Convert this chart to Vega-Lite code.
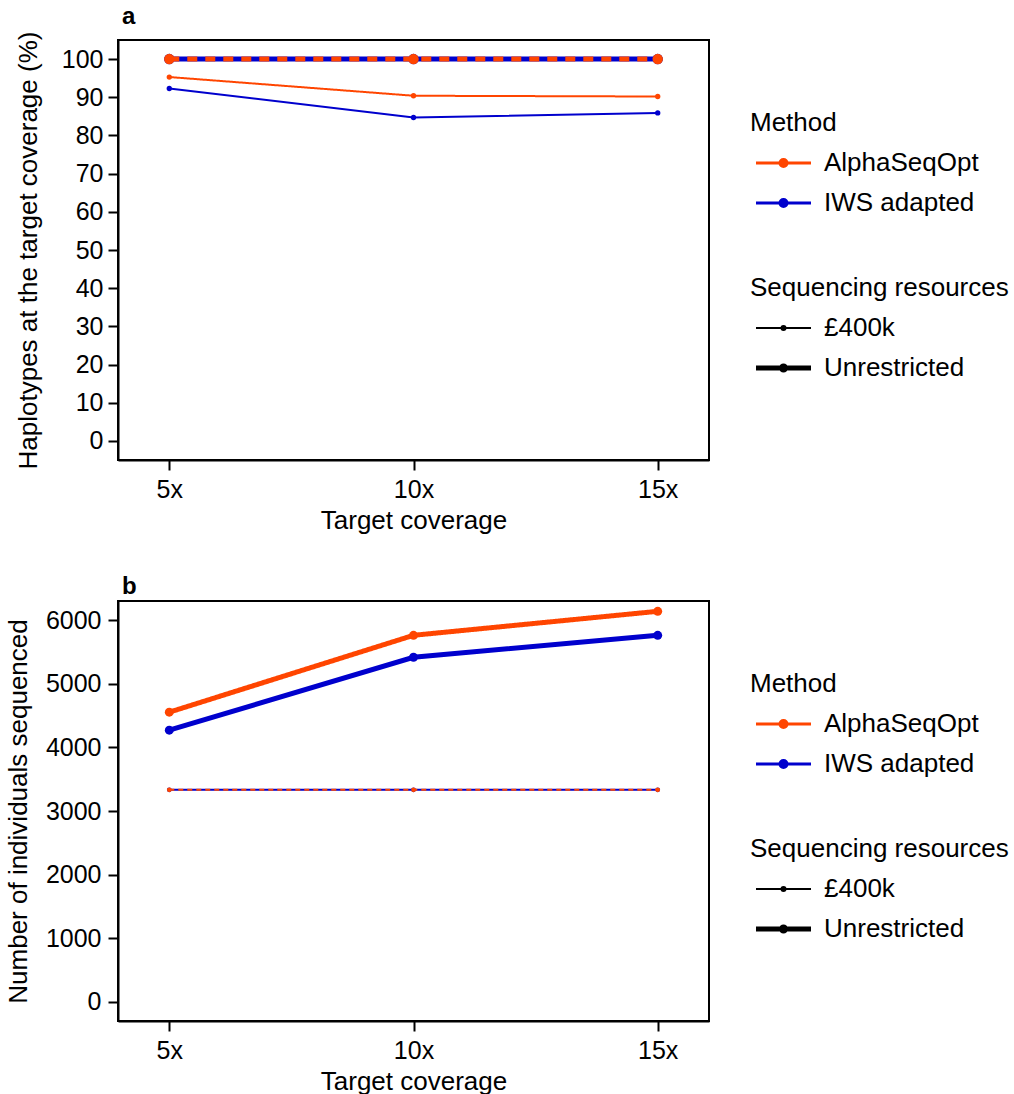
{
  "$schema": "https://vega.github.io/schema/vega-lite/v6.json",
  "background": "white",
  "padding": {"top": 4, "left": 4, "right": 2, "bottom": 0},
  "config": {
    "font": "Liberation Sans",
    "view": {"stroke": "black", "strokeWidth": 2},
    "axis": {
      "domainColor": "black", "domainWidth": 2, "tickColor": "black", "tickWidth": 2, "tickSize": 10,
      "labelColor": "black", "labelFontSize": 25, "labelFont": "Liberation Sans", "labelPadding": 5,
      "titleColor": "black", "titleFontSize": 26, "titleFont": "Liberation Sans", "titleFontWeight": "normal",
      "grid": false, "labelLimit": 300, "titleLimit": 600
    },
    "legend": {
      "labelFontSize": 26, "titleFontSize": 26, "labelColor": "black", "titleColor": "black",
      "titleFontWeight": "normal", "labelFont": "Liberation Sans", "titleFont": "Liberation Sans",
      "titleLimit": 400, "labelLimit": 400
    },
    "title": {"fontSize": 24, "fontWeight": "bold", "anchor": "start", "color": "black", "font": "Liberation Sans", "frame": "group"}
  },
  "datasets": {
    "pa": [
      {"coverage": "5x", "method": "AlphaSeqOpt", "resources": "£400k", "value": 95.3},
      {"coverage": "10x", "method": "AlphaSeqOpt", "resources": "£400k", "value": 90.4},
      {"coverage": "15x", "method": "AlphaSeqOpt", "resources": "£400k", "value": 90.2},
      {"coverage": "5x", "method": "IWS adapted", "resources": "£400k", "value": 92.3},
      {"coverage": "10x", "method": "IWS adapted", "resources": "£400k", "value": 84.7},
      {"coverage": "15x", "method": "IWS adapted", "resources": "£400k", "value": 85.9},
      {"coverage": "5x", "method": "AlphaSeqOpt", "resources": "Unrestricted", "value": 100},
      {"coverage": "10x", "method": "AlphaSeqOpt", "resources": "Unrestricted", "value": 100},
      {"coverage": "15x", "method": "AlphaSeqOpt", "resources": "Unrestricted", "value": 100},
      {"coverage": "5x", "method": "IWS adapted", "resources": "Unrestricted", "value": 100},
      {"coverage": "10x", "method": "IWS adapted", "resources": "Unrestricted", "value": 100},
      {"coverage": "15x", "method": "IWS adapted", "resources": "Unrestricted", "value": 100}
    ],
    "pb": [
      {"coverage": "5x", "method": "AlphaSeqOpt", "resources": "£400k", "value": 3333},
      {"coverage": "10x", "method": "AlphaSeqOpt", "resources": "£400k", "value": 3333},
      {"coverage": "15x", "method": "AlphaSeqOpt", "resources": "£400k", "value": 3333},
      {"coverage": "5x", "method": "IWS adapted", "resources": "£400k", "value": 3333},
      {"coverage": "10x", "method": "IWS adapted", "resources": "£400k", "value": 3333},
      {"coverage": "15x", "method": "IWS adapted", "resources": "£400k", "value": 3333},
      {"coverage": "5x", "method": "AlphaSeqOpt", "resources": "Unrestricted", "value": 4553},
      {"coverage": "10x", "method": "AlphaSeqOpt", "resources": "Unrestricted", "value": 5761},
      {"coverage": "15x", "method": "AlphaSeqOpt", "resources": "Unrestricted", "value": 6138},
      {"coverage": "5x", "method": "IWS adapted", "resources": "Unrestricted", "value": 4270},
      {"coverage": "10x", "method": "IWS adapted", "resources": "Unrestricted", "value": 5416},
      {"coverage": "15x", "method": "IWS adapted", "resources": "Unrestricted", "value": 5761}
    ]
  },
  "spacing": 40,
  "resolve": {
    "scale": {"color": "independent", "strokeWidth": "independent", "x": "independent", "y": "independent"},
    "legend": {"color": "independent", "strokeWidth": "independent"}
  },
  "vconcat": [
    {
      "width": 591, "height": 420,
      "title": {"text": "a", "dx": 4, "offset": 2},
      "data": {"name": "pa"},
      "encoding": {
        "x": {"field": "coverage", "type": "ordinal", "sort": ["5x", "10x", "15x"],
          "scale": {"type": "point", "padding": 0.21},
          "axis": {"title": "Target coverage", "labelAngle": 0, "labelPadding": 7, "titlePadding": 5}},
        "y": {"field": "value", "type": "quantitative",
          "scale": {"domain": [-5, 105], "nice": false, "zero": false},
          "axis": {"title": "Haplotypes at the target coverage (%)", "values": [0, 10, 20, 30, 40, 50, 60, 70, 80, 90, 100], "format": "d", "labelPadding": 5, "titlePadding": 20}}
      },
      "layer": [
        {
          "transform": [{"filter": "datum.method === 'IWS adapted'"}],
          "mark": {"type": "line"},
          "encoding": {
            "color": {"field": "method", "type": "nominal", "scale": {"domain": ["AlphaSeqOpt", "IWS adapted"], "range": ["#FF4500", "#0000CD"]},
              "legend": {"title": "Method", "orient": "none", "legendX": 632, "legendY": 70, "symbolType": "M-0.7,0L4.8,0M1.7,0A0.35,0.35 0 1,0 2.4,0A0.35,0.35 0 1,0 1.7,0M1.9,0A0.15,0.15 0 1,0 2.2,0A0.15,0.15 0 1,0 1.9,0", "symbolSize": 400, "symbolStrokeWidth": 3, "labelOffset": 48, "rowPadding": 14, "titlePadding": 14}},
            "strokeWidth": {"field": "resources", "type": "nominal", "scale": {"domain": ["£400k", "Unrestricted"], "range": [2, 5]},
              "legend": {"title": "Sequencing resources", "orient": "none", "legendX": 632, "legendY": 235, "symbolType": "M-0.7,0L4.8,0M1.85,0A0.2,0.2 0 1,0 2.25,0A0.2,0.2 0 1,0 1.85,0", "symbolSize": 400, "symbolStrokeColor": "black", "symbolFillColor": "black", "labelOffset": 48, "rowPadding": 14, "titlePadding": 14}},
            "detail": {"field": "resources"}
          }
        },
        {
          "transform": [{"filter": "datum.method === 'IWS adapted' && datum.resources === '£400k'"}],
          "mark": {"type": "point", "filled": true, "opacity": 1, "size": 28},
          "encoding": {"color": {"field": "method", "type": "nominal"}}
        },
        {
          "transform": [{"filter": "datum.method === 'IWS adapted' && datum.resources === 'Unrestricted'"}],
          "mark": {"type": "point", "filled": true, "opacity": 1, "size": 110},
          "encoding": {"color": {"field": "method", "type": "nominal"}}
        },
        {
          "transform": [{"filter": "datum.method === 'AlphaSeqOpt'"}],
          "mark": {"type": "line"},
          "encoding": {
            "color": {"field": "method", "type": "nominal"},
            "strokeWidth": {"field": "resources", "type": "nominal"},
            "strokeDash": {"condition": {"test": "datum.resources === 'Unrestricted'", "value": [10, 8]}, "value": [1, 0]},
            "detail": {"field": "resources"}
          }
        },
        {
          "transform": [{"filter": "datum.method === 'AlphaSeqOpt' && datum.resources === '£400k'"}],
          "mark": {"type": "point", "filled": true, "opacity": 1, "size": 28},
          "encoding": {"color": {"field": "method", "type": "nominal"}}
        },
        {
          "transform": [{"filter": "datum.method === 'AlphaSeqOpt' && datum.resources === 'Unrestricted'"}],
          "mark": {"type": "point", "filled": true, "opacity": 1, "size": 110},
          "encoding": {"color": {"field": "method", "type": "nominal"}}
        }
      ]
    },
    {
      "width": 591, "height": 420,
      "title": {"text": "b", "dx": 4, "offset": 2},
      "data": {"name": "pb"},
      "encoding": {
        "x": {"field": "coverage", "type": "ordinal", "sort": ["5x", "10x", "15x"],
          "scale": {"type": "point", "padding": 0.21},
          "axis": {"title": "Target coverage", "labelAngle": 0, "labelPadding": 7, "titlePadding": 5}},
        "y": {"field": "value", "type": "quantitative",
          "scale": {"domain": [-300, 6300], "nice": false, "zero": false},
          "axis": {"title": "Number of individuals sequenced", "values": [0, 1000, 2000, 3000, 4000, 5000, 6000], "format": "d", "labelPadding": 7, "titlePadding": 14}}
      },
      "layer": [
        {
          "transform": [{"filter": "datum.method === 'IWS adapted'"}],
          "mark": {"type": "line"},
          "encoding": {
            "color": {"field": "method", "type": "nominal", "scale": {"domain": ["AlphaSeqOpt", "IWS adapted"], "range": ["#FF4500", "#0000CD"]},
              "legend": {"title": "Method", "orient": "none", "legendX": 632, "legendY": 70, "symbolType": "M-0.7,0L4.8,0M1.7,0A0.35,0.35 0 1,0 2.4,0A0.35,0.35 0 1,0 1.7,0M1.9,0A0.15,0.15 0 1,0 2.2,0A0.15,0.15 0 1,0 1.9,0", "symbolSize": 400, "symbolStrokeWidth": 3, "labelOffset": 48, "rowPadding": 14, "titlePadding": 14}},
            "strokeWidth": {"field": "resources", "type": "nominal", "scale": {"domain": ["£400k", "Unrestricted"], "range": [2, 5]},
              "legend": {"title": "Sequencing resources", "orient": "none", "legendX": 632, "legendY": 235, "symbolType": "M-0.7,0L4.8,0M1.85,0A0.2,0.2 0 1,0 2.25,0A0.2,0.2 0 1,0 1.85,0", "symbolSize": 400, "symbolStrokeColor": "black", "symbolFillColor": "black", "labelOffset": 48, "rowPadding": 14, "titlePadding": 14}},
            "detail": {"field": "resources"}
          }
        },
        {
          "transform": [{"filter": "datum.method === 'IWS adapted' && datum.resources === '£400k'"}],
          "mark": {"type": "point", "filled": true, "opacity": 1, "size": 22},
          "encoding": {"color": {"field": "method", "type": "nominal"}}
        },
        {
          "transform": [{"filter": "datum.method === 'IWS adapted' && datum.resources === 'Unrestricted'"}],
          "mark": {"type": "point", "filled": true, "opacity": 1, "size": 80},
          "encoding": {"color": {"field": "method", "type": "nominal"}}
        },
        {
          "transform": [{"filter": "datum.method === 'AlphaSeqOpt'"}],
          "mark": {"type": "line"},
          "encoding": {
            "color": {"field": "method", "type": "nominal"},
            "strokeWidth": {"field": "resources", "type": "nominal"},
            "strokeDash": {"condition": {"test": "datum.resources === '£400k'", "value": [5, 4]}, "value": [1, 0]},
            "detail": {"field": "resources"}
          }
        },
        {
          "transform": [{"filter": "datum.method === 'AlphaSeqOpt' && datum.resources === '£400k'"}],
          "mark": {"type": "point", "filled": true, "opacity": 1, "size": 22},
          "encoding": {"color": {"field": "method", "type": "nominal"}}
        },
        {
          "transform": [{"filter": "datum.method === 'AlphaSeqOpt' && datum.resources === 'Unrestricted'"}],
          "mark": {"type": "point", "filled": true, "opacity": 1, "size": 80},
          "encoding": {"color": {"field": "method", "type": "nominal"}}
        }
      ]
    }
  ]
}
